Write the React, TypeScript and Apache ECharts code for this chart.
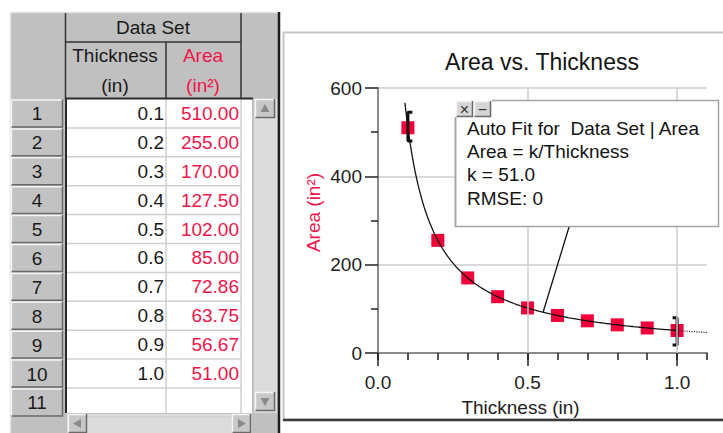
import { useEffect, useRef } from "react";
import * as echarts from "echarts";

// ---------- data ----------
const thickness = [0.1, 0.2, 0.3, 0.4, 0.5, 0.6, 0.7, 0.8, 0.9, 1.0];
const area = [510.0, 255.0, 170.0, 127.5, 102.0, 85.0, 72.86, 63.75, 56.67, 51.0];
const rowNumbers = [1, 2, 3, 4, 5, 6, 7, 8, 9, 10, 11];
const fitK = 51.0;
const fitLines = ["Auto Fit for  Data Set | Area", "Area = k/Thickness", "k = 51.0", "RMSE: 0"];
const xLabelValues = [0, 0.5, 1.0];
const xGridValues = [0.5, 1.0];
const fitStart = 0.09;
const fitEnd = 1.0;
const fitTailEnd = 1.1;
const fitStep = 0.005;
const bracketLeft = { x: 0.1, lo: 480, hi: 545 };
const bracketRight = { x: 1.0, lo: 18, hi: 80 };
const leaderFrom = [0.64, 288];
const leaderToX = 0.552;

const FONT = "'Liberation Sans', Arial, Helvetica, sans-serif";
const RED_TEXT = "#f0164b";
const RED_MARK = "#f2003a";

function bevel(x: number, y: number, w: number, h: number, fill = "#c4c4c4", z = 2): any[] {
  return [
    { type: "rect", shape: { x, y, width: w, height: h }, style: { fill }, z },
    {
      type: "polyline",
      shape: { points: [[x + 0.5, y + h], [x + 0.5, y + 0.5], [x + w, y + 0.5]] },
      style: { stroke: "#f4f4f4", lineWidth: 1.5 },
      z,
    },
    {
      type: "polyline",
      shape: { points: [[x + 0.5, y + h - 0.5], [x + w - 0.5, y + h - 0.5], [x + w - 0.5, y]] },
      style: { stroke: "#6a6a6a", lineWidth: 1.5 },
      z,
    },
  ];
}

function hline(x1: number, x2: number, y: number, stroke: string, lw = 1.5, z = 3): any {
  return { type: "line", shape: { x1, y1: y, x2, y2: y }, style: { stroke, lineWidth: lw }, z };
}
function vline(x: number, y1: number, y2: number, stroke: string, lw = 1.5, z = 3): any {
  return { type: "line", shape: { x1: x, y1, x2: x, y2 }, style: { stroke, lineWidth: lw }, z };
}
function txt(x: number, y: number, text: string, align: string, fill = "#1a1a1a", size = 19, z = 4): any {
  return {
    type: "text",
    x,
    y,
    z,
    style: { text, fill, fontSize: size, fontFamily: FONT, align, verticalAlign: "middle" },
  };
}

function buildTable(): any[] {
  const g: any[] = [];
  const rowTop = 99;
  const rowH = 28.9;
  // gray background
  g.push({ type: "rect", shape: { x: 10, y: 12, width: 268, height: 421 }, style: { fill: "#c0c0c0" }, z: 0 });
  g.push(hline(10, 278, 12.5, "#e4e4e4", 1.5, 1));
  g.push(vline(10.5, 12, 433, "#e4e4e4", 1.5, 1));
  // header lines
  g.push(vline(65.5, 13, 99, "#333"));
  g.push(vline(241, 13, 99, "#333"));
  g.push(hline(65, 241, 42, "#333"));
  g.push(vline(166, 42, 99, "#333"));
  // header texts
  g.push(txt(153, 27, "Data Set", "center"));
  g.push(txt(115, 55, "Thickness", "center"));
  g.push(txt(115, 85, "(in)", "center"));
  g.push(txt(203, 55, "Area", "center", RED_TEXT));
  g.push(txt(203, 85, "(in²)", "center", RED_TEXT));
  // white data area
  g.push({ type: "rect", shape: { x: 67, y: 99, width: 185, height: 314 }, style: { fill: "#ffffff" }, z: 1 });
  g.push(hline(65, 253, 98.5, "#2a2a2a", 2));
  g.push(vline(66, 98, 413, "#2a2a2a", 2));
  for (let i = 1; i <= rowNumbers.length; i++) {
    g.push(hline(67, 241, rowTop + i * rowH, "#cfcfcf", 1.5, 2));
  }
  g.push(vline(166, 99, 413, "#cfcfcf", 1.5, 2));
  g.push(vline(241, 99, 413, "#cfcfcf", 1.5, 2));
  // row number cells
  rowNumbers.forEach((n, i) => {
    const y = rowTop + i * rowH;
    g.push(...bevel(11, y + 0.5, 52, rowH - 1, "#c2c2c2", 2));
    g.push(txt(37, y + rowH / 2 + 0.5, String(n), "center"));
  });
  // values
  thickness.forEach((t, i) => {
    const y = rowTop + (i + 0.5) * rowH;
    g.push(txt(164, y, t.toFixed(1), "right"));
    g.push(txt(239, y, area[i].toFixed(2), "right", RED_TEXT));
  });
  // vertical scrollbar
  g.push({ type: "rect", shape: { x: 254, y: 99, width: 23, height: 314 }, style: { fill: "#dcdcdc" }, z: 1 });
  g.push(...bevel(255, 99, 20, 19, "#c8c8c8", 2));
  g.push({ type: "polygon", shape: { points: [[265, 104], [260.5, 112], [269.5, 112]] }, style: { fill: "#8a8a8a" }, z: 3 });
  g.push(...bevel(255, 392, 20, 19, "#c8c8c8", 2));
  g.push({ type: "polygon", shape: { points: [[265, 406], [260.5, 398], [269.5, 398]] }, style: { fill: "#8a8a8a" }, z: 3 });
  // horizontal scrollbar
  g.push({ type: "rect", shape: { x: 67, y: 414, width: 185, height: 19 }, style: { fill: "#dcdcdc" }, z: 1 });
  g.push(...bevel(68, 414, 19, 19, "#c8c8c8", 2));
  g.push({ type: "polygon", shape: { points: [[73, 423.5], [81, 419], [81, 428]] }, style: { fill: "#8a8a8a" }, z: 3 });
  g.push(...bevel(232, 414, 19, 19, "#c8c8c8", 2));
  g.push({ type: "polygon", shape: { points: [[246, 423.5], [238, 419], [238, 428]] }, style: { fill: "#8a8a8a" }, z: 3 });
  // separator to chart panel
  g.push(vline(279, 12, 433, "#1e1e1e", 2.5, 3));
  return g;
}

function buildPanel(): any[] {
  const g: any[] = [];
  g.push({
    type: "rect",
    shape: { x: 283.5, y: 32.5, width: 445, height: 387 },
    style: { fill: null, stroke: "#c6c6c6", lineWidth: 2 },
    z: 1,
  });
  g.push(hline(283, 723, 420, "#3a3a3a", 2.5, 2));
  // annotation box
  g.push({
    type: "rect",
    shape: { x: 455.5, y: 100.5, width: 263, height: 126 },
    style: { fill: "#ffffff", stroke: "#a4a4a4", lineWidth: 1.5 },
    z: 100,
  });
  g.push({ type: "rect", shape: { x: 454, y: 99, width: 38, height: 19 }, style: { fill: "#ffffff" }, z: 101 });
  g.push(...bevel(456, 101, 17, 16, "#d6d6d6", 102));
  g.push(...bevel(474, 101, 17, 16, "#d6d6d6", 102));
  g.push(txt(464.5, 109, "×", "center", "#333", 16, 103));
  g.push(txt(482.5, 109, "−", "center", "#333", 16, 103));
  g.push(vline(455.5, 117, 226, "#a4a4a4", 1.5, 101));
  fitLines.forEach((line, i) => {
    g.push(txt(467, 128 + i * 23.4, line, "left", "#141414", 19, 103));
  });
  return g;
}

export default function App() {
  const ref = useRef<HTMLDivElement>(null);
  useEffect(() => {
    document.body.style.margin = "0";
    if (!ref.current) return;
    const chart = echarts.init(ref.current, null, { renderer: "svg" });

    const fitData: number[][] = [];
    const nFit = Math.round((fitEnd - fitStart) / fitStep);
    for (let i = 0; i <= nFit; i++) {
      const x = fitStart + i * fitStep;
      fitData.push([x, fitK / x]);
    }
    const tailData: number[][] = [];
    const nTail = Math.round((fitTailEnd - fitEnd) / fitStep);
    for (let i = 0; i <= nTail; i++) {
      const x = fitEnd + i * fitStep;
      tailData.push([x, fitK / x]);
    }
    const dx = 0.015;
    const leftBracket = [
      [bracketLeft.x + dx, bracketLeft.hi],
      [bracketLeft.x, bracketLeft.hi],
      [bracketLeft.x, bracketLeft.lo],
      [bracketLeft.x + dx, bracketLeft.lo],
    ];
    const rightBracket = [
      [bracketRight.x - dx, bracketRight.hi],
      [bracketRight.x, bracketRight.hi],
      [bracketRight.x, bracketRight.lo],
      [bracketRight.x - dx, bracketRight.lo],
    ];

    const option: any = {
      animation: false,
      backgroundColor: "#ffffff",
      textStyle: { fontFamily: FONT },
      title: {
        text: "Area vs. Thickness",
        left: 542,
        top: 50,
        textAlign: "center",
        padding: 0,
        textStyle: { fontSize: 23, fontWeight: "normal", color: "#141414", fontFamily: FONT },
      },
      grid: { left: 378, top: 88, width: 329, height: 265, outerBoundsMode: "none", containLabel: false },
      xAxis: [
        {
          type: "value",
          min: 0,
          max: 1.1,
          interval: 0.1,
          position: "bottom",
          axisLine: { show: true, onZero: false, lineStyle: { color: "#8a8a8a", width: 2 } },
          axisTick: { show: true, length: 7, lineStyle: { color: "#222", width: 1.5 } },
          axisLabel: { show: false },
          splitLine: { show: false },
        },
        {
          type: "value",
          min: 0,
          max: 1.1,
          position: "bottom",
          axisLine: { show: false, onZero: false },
          axisTick: { show: true, length: 13, customValues: xLabelValues, lineStyle: { color: "#222", width: 1.5 } },
          axisLabel: {
            show: true,
            customValues: xLabelValues,
            formatter: (v: number) => v.toFixed(1),
            margin: 20,
            fontSize: 19,
            color: "#222",
            fontFamily: FONT,
          },
          splitLine: { show: false },
          name: "Thickness (in)",
          nameLocation: "middle",
          nameGap: 45,
          nameTextStyle: { fontSize: 19, color: "#222", fontFamily: FONT, padding: [0, 44, 0, 0] },
        },
      ],
      yAxis: {
        type: "value",
        min: 0,
        max: 600,
        interval: 200,
        axisLine: { show: true, onZero: false, lineStyle: { color: "#8a8a8a", width: 2 } },
        axisTick: { show: true, length: 13, lineStyle: { color: "#222", width: 1.5 } },
        minorTick: { show: true, splitNumber: 2, length: 7, lineStyle: { color: "#222", width: 1.5 } },
        axisLabel: { margin: 16, fontSize: 19, color: "#222", fontFamily: FONT },
        splitLine: { show: true, lineStyle: { color: "#cccccc", width: 1.5 } },
        name: "Area (in²)",
        nameLocation: "middle",
        nameGap: 55,
        nameRotate: 90,
        nameTextStyle: { fontSize: 19, color: RED_TEXT, fontFamily: FONT, padding: [0, 0, 0, 16] },
      },
      series: [
        {
          type: "line",
          xAxisIndex: 0,
          data: [],
          z: 1,
          silent: true,
          markLine: {
            silent: true,
            symbol: ["none", "none"],
            label: { show: false },
            lineStyle: { color: "#cccccc", type: "solid", width: 1.5 },
            data: xGridValues.map((v) => ({ xAxis: v })),
          },
        },
        {
          type: "scatter",
          xAxisIndex: 0,
          symbol: "rect",
          symbolSize: 13,
          itemStyle: { color: RED_MARK, opacity: 1 },
          data: thickness.map((t, i) => [t, area[i]]),
          z: 2,
        },
        {
          type: "line",
          xAxisIndex: 0,
          data: fitData,
          showSymbol: false,
          lineStyle: { color: "#111", width: 1.3 },
          z: 3,
          silent: true,
        },
        {
          type: "line",
          xAxisIndex: 0,
          data: tailData,
          showSymbol: false,
          lineStyle: { color: "#333", width: 1.2, type: "dotted" },
          z: 3,
          silent: true,
        },
        {
          type: "line",
          xAxisIndex: 0,
          data: [leaderFrom, [leaderToX, fitK / leaderToX]],
          showSymbol: false,
          lineStyle: { color: "#111", width: 1.3 },
          z: 3,
          silent: true,
        },
        {
          type: "line",
          xAxisIndex: 0,
          data: leftBracket,
          showSymbol: false,
          lineStyle: { color: "#111", width: 3 },
          z: 4,
          silent: true,
        },
        {
          type: "line",
          xAxisIndex: 0,
          data: rightBracket,
          showSymbol: false,
          lineStyle: { color: "#111", width: 3 },
          z: 4,
          silent: true,
        },
      ],
      graphic: { elements: [...buildTable(), ...buildPanel()] },
    };
    chart.setOption(option);
    return () => chart.dispose();
  }, []);
  return (
    <div
      ref={ref}
      style={{ position: "absolute", left: 0, top: 0, width: 723, height: 433 }}
    />
  );
}
